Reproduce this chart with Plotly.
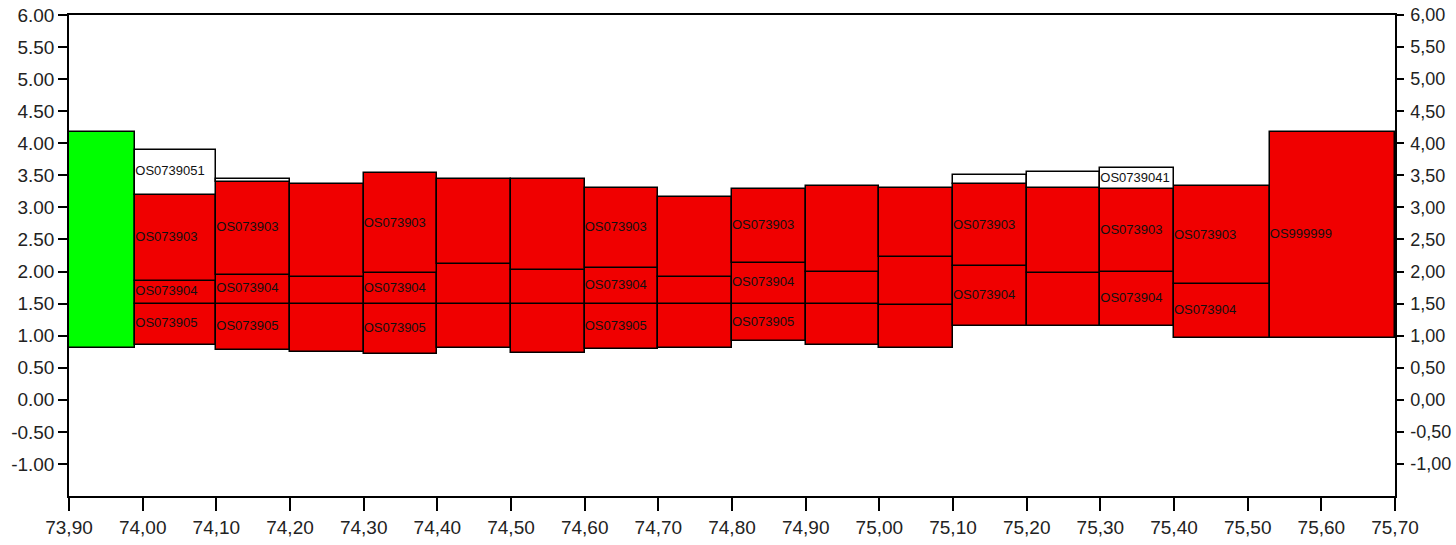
import plotly.graph_objects as go

# ---- data ----
bounds = [73.90, 73.99, 74.10, 74.20, 74.30, 74.40, 74.50, 74.60, 74.70,
          74.80, 74.90, 75.00, 75.10, 75.20, 75.30, 75.40, 75.53, 75.70]

N = None
green_lo = [0.80, N, N, N, N, N, N, N, N, N, N, N, N, N, N, N, N]
green_hi = [4.18, N, N, N, N, N, N, N, N, N, N, N, N, N, N, N, N]
s905_lo = [N, 0.86, 0.77, 0.75, 0.72, 0.80, 0.73, 0.79, 0.80, 0.91, 0.86, 0.80, N, N, N, N, N]
s905_hi = [N, 1.50, 1.50, 1.50, 1.50, 1.50, 1.50, 1.50, 1.50, 1.50, 1.50, 1.48, N, N, N, N, N]
s904_lo = [N, 1.50, 1.50, 1.50, 1.50, 1.50, 1.50, 1.50, 1.50, 1.50, 1.50, 1.48, 1.15, 1.15, 1.15, 0.97, N]
s904_hi = [N, 1.86, 1.95, 1.92, 1.97, 2.11, 2.02, 2.05, 1.92, 2.14, 2.00, 2.22, 2.08, 1.97, 2.00, 1.80, N]
s903_hi = [N, 3.20, 3.40, 3.36, 3.53, 3.44, 3.44, 3.31, 3.17, 3.28, 3.33, 3.31, 3.36, 3.31, 3.28, 3.33, N]
white_hi = [N, 3.90, 3.44, N, N, N, N, N, N, N, N, N, 3.50, 3.55, 3.61, N, N]
s999_lo = [N, N, N, N, N, N, N, N, N, N, N, N, N, N, N, N, 0.97]
s999_hi = [N, N, N, N, N, N, N, N, N, N, N, N, N, N, N, N, 4.18]

E = ""
lab905 = [E, "OS073905", "OS073905", E, "OS073905", E, E, "OS073905", E, "OS073905", E, E, E, E, E, E, E]
lab904 = [E, "OS073904", "OS073904", E, "OS073904", E, E, "OS073904", E, "OS073904", E, E,
          "OS073904", E, "OS073904", "OS073904", E]
lab903 = [E, "OS073903", "OS073903", E, "OS073903", E, E, "OS073903", E, "OS073903", E, E,
          "OS073903", E, "OS073903", "OS073903", E]
labwhite = [E, "OS0739051", E, E, E, E, E, E, E, E, E, E, E, E, "OS0739041", E, E]
lab999 = [E, E, E, E, E, E, E, E, E, E, E, E, E, E, E, E, "OS999999"]

x_ticks = [73.90, 74.00, 74.10, 74.20, 74.30, 74.40, 74.50, 74.60, 74.70, 74.80,
           74.90, 75.00, 75.10, 75.20, 75.30, 75.40, 75.50, 75.60, 75.70]
x_ticktext = ["73,90", "74,00", "74,10", "74,20", "74,30", "74,40", "74,50", "74,60", "74,70", "74,80",
              "74,90", "75,00", "75,10", "75,20", "75,30", "75,40", "75,50", "75,60", "75,70"]
y_ticks = [-1.0, -0.5, 0.0, 0.5, 1.0, 1.5, 2.0, 2.5, 3.0, 3.5, 4.0, 4.5, 5.0, 5.5, 6.0]
y_left_text = ["-1.00", "-0.50", "0.00", "0.50", "1.00", "1.50", "2.00", "2.50", "3.00",
               "3.50", "4.00", "4.50", "5.00", "5.50", "6.00"]
y_right_text = ["-1,00", "-0,50", "0,00", "0,50", "1,00", "1,50", "2,00", "2,50", "3,00",
                "3,50", "4,00", "4,50", "5,00", "5,50", "6,00"]

RED = "#f00000"
GREEN = "#00ff00"
WHITE = "#ffffff"

lefts = bounds[:-1]
rights = bounds[1:]
centers = [(a + b) / 2 for a, b in zip(lefts, rights)]
widths = [b - a for a, b in zip(lefts, rights)]

fig = go.Figure()

layers = [
    (green_lo, green_hi, GREEN, [E] * 17),
    (s905_lo, s905_hi, RED, lab905),
    (s904_lo, s904_hi, RED, lab904),
    (s904_hi, s903_hi, RED, lab903),
    (s903_hi, white_hi, WHITE, labwhite),
    (s999_lo, s999_hi, RED, lab999),
]

for lo, hi, color, labels in layers:
    xs, ys, bs, ws = [], [], [], []
    tx, ty, tt = [], [], []
    for i in range(len(centers)):
        if lo[i] is None or hi[i] is None:
            continue
        xs.append(centers[i]); bs.append(lo[i]); ys.append(hi[i] - lo[i]); ws.append(widths[i])
        if labels[i]:
            tx.append(lefts[i]); ty.append((lo[i] + hi[i]) / 2); tt.append(labels[i])
    fig.add_trace(go.Bar(x=xs, y=ys, base=bs, width=ws,
                         marker=dict(color=color, line=dict(color="black", width=1.5)),
                         showlegend=False, hoverinfo="skip"))
    if tt:
        fig.add_trace(go.Scatter(x=tx, y=ty, text=tt, mode="text",
                                 textposition="middle right",
                                 textfont=dict(family="Arial, Liberation Sans", size=13, color="#111111"),
                                 showlegend=False, hoverinfo="skip", cliponaxis=False))

# dummy trace to show the right axis
fig.add_trace(go.Scatter(x=[bounds[0]], y=[None], yaxis="y2", showlegend=False, hoverinfo="skip"))

tick_font = dict(family="Arial, Liberation Sans", size=19, color="#222222")

fig.update_layout(
    width=1456, height=545,
    margin=dict(l=69, r=61, t=15, b=49),
    paper_bgcolor="white", plot_bgcolor="white",
    barmode="overlay",
    bargap=0,
    xaxis=dict(range=[73.90, 75.70], tickvals=x_ticks, ticktext=x_ticktext,
               ticks="outside", ticklen=13, tickwidth=1.5, tickcolor="black",
               showline=True, linecolor="black", linewidth=1.5, mirror=True,
               showgrid=False, zeroline=False, automargin=False,
               tickfont=dict(family="Arial, Liberation Sans", size=19, color="#222222")),
    yaxis=dict(range=[-1.5, 6.0], tickvals=y_ticks, ticktext=y_left_text,
               ticks="outside", ticklen=9, tickwidth=1.5, tickcolor="black",
               showline=True, linecolor="black", linewidth=1.5, automargin=False,
               showgrid=False, zeroline=False, tickfont=tick_font),
    yaxis2=dict(range=[-1.5, 6.0], tickvals=y_ticks, ticktext=y_right_text,
                overlaying="y", side="right", anchor="x", automargin=False,
                ticks="outside", ticklen=7, tickwidth=1.5, tickcolor="black",
                ticklabelstandoff=3,
                showline=True, linecolor="black", linewidth=1.5,
                showgrid=False, zeroline=False,
                tickfont=dict(family="Arial, Liberation Sans", size=18, color="#222222")),
)

fig.write_html("out.html", config={"displayModeBar": False},
               post_script="document.body.style.margin='0';")
